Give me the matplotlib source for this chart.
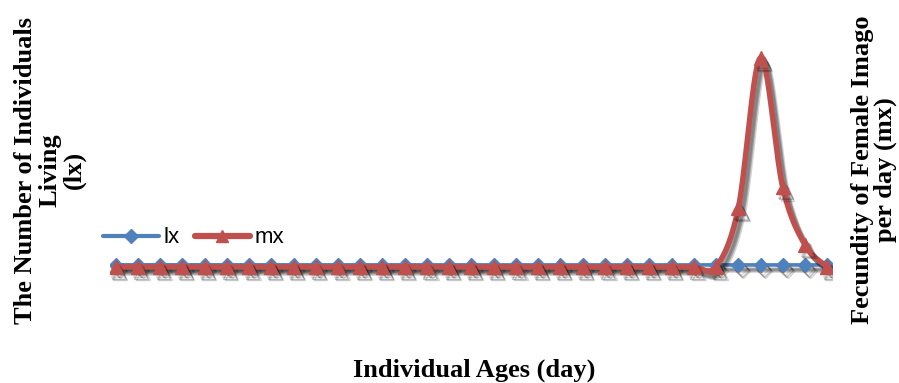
import numpy as np
import matplotlib.pyplot as plt
import matplotlib.patheffects as pe
from matplotlib.lines import Line2D

# individual ages (days) and life table values
days = np.arange(1, 34)
lx = [1.0] * 29 + [1.0, 1.0, 0.98, 0.95]
mx = [0.0] * 28 + [2.8, 10.0, 3.8, 1.05, 0.0]

blue = '#4F81BD'
red = '#C0504D'


# Excel style smoothed line (Catmull-Rom through the points)
def smooth(x, y, n=20):
    x = np.asarray(x, float)
    y = np.asarray(y, float)
    px = np.concatenate([[x[0]], x, [x[-1]]])
    py = np.concatenate([[y[0]], y, [y[-1]]])
    t = np.linspace(0, 1, n, endpoint=False)
    xs, ys = [], []
    for i in range(1, len(px) - 2):
        for arr, out in ((px, xs), (py, ys)):
            p0, p1, p2, p3 = arr[i - 1], arr[i], arr[i + 1], arr[i + 2]
            c1 = p1 + (p2 - p0) / 6
            c2 = p2 - (p3 - p1) / 6
            out.extend((1 - t) ** 3 * p1 + 3 * (1 - t) ** 2 * t * c1
                       + 3 * (1 - t) * t ** 2 * c2 + t ** 3 * p2)
    xs.append(x[-1])
    ys.append(y[-1])
    return np.array(xs), np.array(ys)


# soft grey drop shadow like the office chart
shadow = [pe.SimpleLineShadow(offset=(2.5, -3.5), shadow_color='black', alpha=0.25),
          pe.SimpleLineShadow(offset=(3.4, -4.4), shadow_color='black', alpha=0.18),
          pe.SimpleLineShadow(offset=(1.8, -2.6), shadow_color='black', alpha=0.15),
          pe.Normal()]

fig = plt.figure(figsize=(8.99, 3.83), dpi=100)
ax = fig.add_axes([0.1224, 0.243, 0.804, 0.64])
ax2 = ax.twinx()

ax.set_xlim(0.75, 33.25)
ax.set_ylim(-11, 106.2)
ax2.set_ylim(-1.1, 10.62)

sx, sy = smooth(days, lx)
ax.plot(sx, sy, color=blue, lw=2.6, path_effects=shadow, zorder=2)
ax.plot(days, lx, ls='none', marker='D', ms=7, color=blue, path_effects=shadow, zorder=3)

sx, sy = smooth(days, mx)
ax2.plot(sx, sy, color=red, lw=4.0, path_effects=shadow, zorder=2, solid_capstyle='round')
ax2.plot(days, mx, ls='none', marker='^', ms=10, color=red, path_effects=shadow, zorder=3)

for a in (ax, ax2):
    a.set_xticks([])
    a.set_yticks([])
    for s in a.spines.values():
        s.set_visible(False)
    a.patch.set_visible(False)

handles = [Line2D([], [], color=blue, lw=3, marker='D', ms=7, solid_capstyle='round'),
           Line2D([], [], color=red, lw=4.5, marker='^', ms=9, solid_capstyle='round')]
fig.legend(handles, ['lx', 'mx'], loc='center left', bbox_to_anchor=(0.1146, 0.379),
           ncol=2, frameon=False, handlelength=2.5, handletextpad=0.2,
           columnspacing=0.7, borderpad=0, borderaxespad=0,
           prop={'family': 'Liberation Sans', 'size': 16})

lab = dict(family='Liberation Serif', fontweight='bold', fontsize=19)
fig.text(0.527, 0.034, 'Individual Ages (day)', ha='center', va='center', **lab)
fig.text(0.0556, 0.556, 'The Number of Individuals\nLiving\n(lx)', rotation=90,
         ha='center', va='center', linespacing=1.05, **lab)
fig.text(0.972, 0.556, 'Fecundity of Female Imago\nper day (mx)', rotation=90,
         ha='center', va='center', linespacing=1.0, **lab)

fig.savefig('out.png', dpi=100)
